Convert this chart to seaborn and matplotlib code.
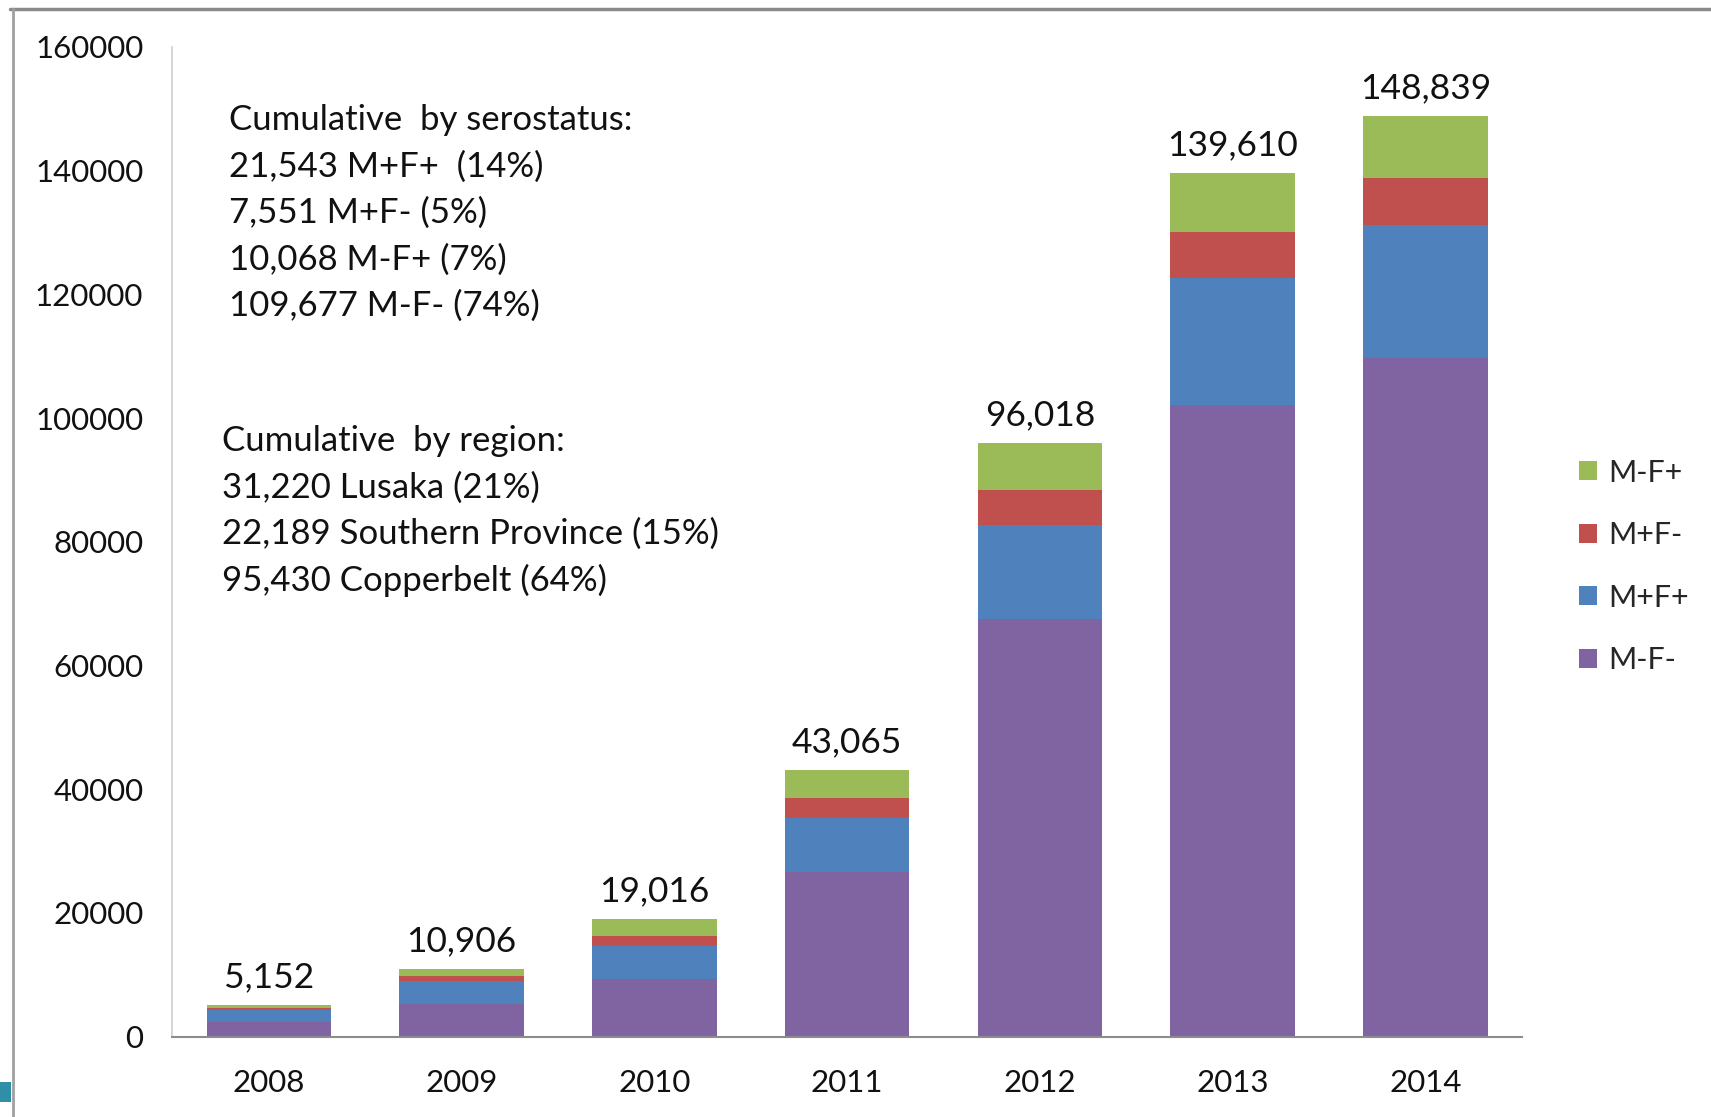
import matplotlib
matplotlib.use("Agg")
import matplotlib.pyplot as plt
from matplotlib.patches import Patch, Rectangle
from matplotlib.lines import Line2D
import numpy as np
import pandas as pd
import seaborn as sns

years = ["2008", "2009", "2010", "2011", "2012", "2013", "2014"]
mf_neg = [2380, 5290, 9270, 26640, 67560, 102140, 109677]     # M-F-
mp_fp = [1940, 3710, 5330, 8790, 15170, 20460, 21543]        # M+F+
mp_fn = [330, 750, 1620, 3170, 5640, 7410, 7551]             # M+F-
mn_fp = [502, 1156, 2796, 4465, 7648, 9600, 10068]           # M-F+
totals = [5152, 10906, 19016, 43065, 96018, 139610, 148839]
total_labels = ["5,152", "10,906", "19,016", "43,065", "96,018", "139,610", "148,839"]

series_names = ["M-F-", "M+F+", "M+F-", "M-F+"]
colors = {"M-F-": "#8064A2", "M+F+": "#4F81BD", "M+F-": "#C0504D", "M-F+": "#9BBB59"}

sero_lines = ["Cumulative  by serostatus:", "21,543 M+F+  (14%)", "7,551 M+F- (5%)",
              "10,068 M-F+ (7%)", "109,677 M-F- (74%)"]
region_lines = ["Cumulative  by region:", "31,220 Lusaka (21%)",
                "22,189 Southern Province (15%)", "95,430 Copperbelt (64%)"]

sns.set_theme(style="white")
plt.rcParams['font.family'] = ['Lato', 'DejaVu Sans']

df = pd.DataFrame({"year": years, "M-F-": mf_neg, "M+F+": mp_fp, "M+F-": mp_fn, "M-F+": mn_fp})
cum = df[series_names].cumsum(axis=1)

fig = plt.figure(figsize=(17.11, 11.17), dpi=100)
ax = fig.add_axes([0.1008, 0.0719, 0.7887, 0.8861])

for name in reversed(series_names):
    sns.barplot(x=df["year"], y=cum[name], color=colors[name], width=0.646,
                saturation=1, ax=ax, edgecolor="none", linewidth=0)

ax.set_xlim(-0.5, 6.5)
ax.set_ylim(0, 160000)
ax.set_yticks(np.arange(0, 160001, 20000))
ax.set_yticklabels([str(v) for v in range(0, 160001, 20000)])
ax.set_xlabel("")
ax.set_ylabel("")
ax.tick_params(axis="y", length=0, pad=21, labelsize=22.5, labelcolor="#111111")
ax.tick_params(axis="x", length=0, pad=23.5, labelsize=22.5, labelcolor="#111111")
for s in ["top", "right"]:
    ax.spines[s].set_visible(False)
ax.spines["left"].set_color("#D0D0D0")
ax.spines["left"].set_linewidth(1.2)
ax.spines["bottom"].set_color("#8C8C8C")
ax.spines["bottom"].set_linewidth(1.5)

for i, (t, lab) in enumerate(zip(totals, total_labels)):
    ax.annotate(lab, (i, t), xytext=(0, 20), textcoords="offset points",
                ha="center", va="center", fontsize=25.5, color="#111111")

# text blocks (axes fraction)
y0 = 0.926
for k, line in enumerate(sero_lines):
    ax.text(0.042, y0 - k * 0.0469, line, transform=ax.transAxes, fontsize=25,
            ha="left", va="center", color="#111111")
y1 = 0.602
for k, line in enumerate(region_lines):
    ax.text(0.037, y1 - k * 0.0469, line, transform=ax.transAxes, fontsize=25,
            ha="left", va="center", color="#111111")

handles = [Patch(facecolor=colors[n], edgecolor="none", label=n) for n in reversed(series_names)]
leg = fig.legend(handles=handles, loc="center left", bbox_to_anchor=(0.907, 0.493),
                 frameon=False, fontsize=22, handlelength=0.58, handleheight=0.58,
                 handletextpad=0.35, labelspacing=1.13)

# screenshot frame
fig.add_artist(Line2D([0.006, 1.0], [0.992, 0.992], transform=fig.transFigure,
                      color="#8A8A8A", linewidth=2.5))
fig.add_artist(Line2D([0.0075, 0.0075], [0.0, 0.992], transform=fig.transFigure,
                      color="#A0A0A0", linewidth=2))
fig.add_artist(Rectangle((0.0, 0.013), 0.0065, 0.018, transform=fig.transFigure,
                         facecolor="#2F8FA8", edgecolor="none"))

fig.savefig("out.png", dpi=100)
